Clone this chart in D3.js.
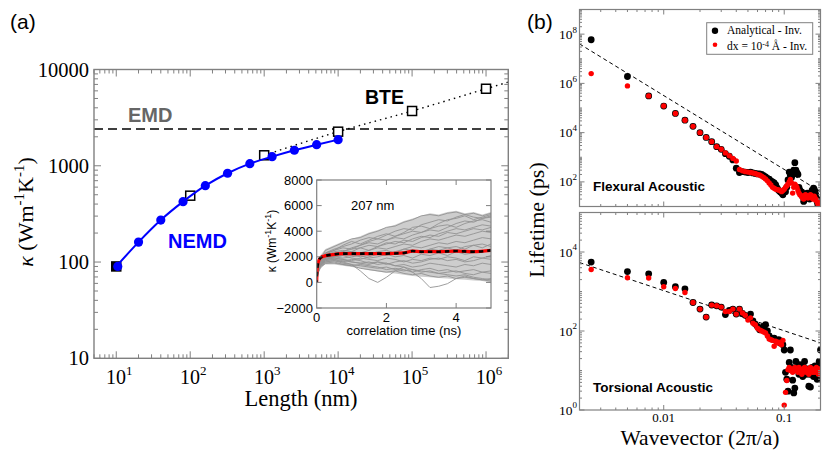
<!DOCTYPE html>
<html><head><meta charset="utf-8">
<script src="https://cdn.jsdelivr.net/npm/d3@7"></script>
<style>body{margin:0;background:#fff}svg{display:block}</style>
</head><body>
<svg id="c" width="823" height="452"></svg>
<script>
// ---------------- Panel (a) data ----------------
const nemdLength = [10,20,40,80,160,320,640,1280,2560,5120,10000];
const nemdKappa  = [90,161,273,424,621,836,1052,1244,1449,1656,1866];
const bteLength  = [10,100,1000,10000,100000,1000000];
const bteKappa   = [90,489,1285,2260,3707,6310];
const bteFitLength = [1000,10000,100000,1000000,2000000];
const bteFitKappa  = [1285,2260,3707,6310,7400];
const emdKappa = 2410;
const aYTickLabels = [10,100,1000,10000];
const aXTickExps = [1,2,3,4,5,6];

// ---------------- Inset data ----------------
const grayTime = [0,0.03,0.1,0.25,0.5,0.75,1,1.25,1.5,1.75,2,2.25,2.5,2.75,3,3.25,3.5,3.75,4,4.25,4.5,4.75,5];
const grayUpper = [0,1200,2100,2600,2900,3200,3400,3600,3900,4100,4300,4500,4800,5000,5200,5400,5300,5500,5600,5400,5500,5300,5500];
const grayLower = [0,700,1200,1400,1400,1300,1200,1100,950,850,750,700,600,500,450,400,350,300,250,200,150,100,0];
const grayCurves = [
 [0,1100,1800,2500,2800,3100,3400,3500,3800,4000,4300,4400,4700,4900,5200,5300,5200,5400,5500,5300,5400,5200,5400],
 [0,1000,1700,2300,2600,2800,3000,3300,3500,3400,3700,4000,4200,4100,4500,4700,4900,4800,5100,5300,5100,5000,5200],
 [0,1000,1600,2200,2500,2700,2600,2900,3200,3400,3300,3600,3800,4000,3900,4200,4400,4500,4300,4600,4800,4900,4700],
 [0,950,1600,2100,2300,2400,2600,2700,2500,2800,3000,3200,3100,3400,3600,3500,3800,4000,4200,4100,4300,4500,4400],
 [0,900,1500,2000,2200,2300,2400,2300,2500,2700,2600,2800,3000,2900,3200,3400,3300,3500,3700,3600,3800,4000,3900],
 [0,900,1500,1900,2100,2200,2100,2300,2200,2400,2500,2300,2600,2800,2700,2900,3100,3000,3200,3100,3300,3500,3400],
 [0,850,1400,1900,2000,2100,2200,2000,2100,2300,2200,2400,2200,2500,2400,2600,2500,2700,2800,2600,2900,3000,2800],
 [0,800,1400,1800,2000,1900,2000,2100,1900,2000,2200,2000,2100,1900,2200,2100,2300,2100,2400,2200,2300,2500,2400],
 [0,800,1300,1800,1900,1800,1700,1900,1800,1700,1900,1800,1600,1800,1700,1900,1800,2000,1900,1700,2000,1900,2100],
 [0,750,1300,1700,1800,1700,1600,1500,1600,1400,1500,1300,1400,1200,1300,1500,1400,1300,1200,1400,1300,1500,1400],
 [0,700,1200,1600,1700,1500,1400,1300,1200,1100,1200,1000,900,1000,800,900,700,800,900,700,600,800,700],
 [0,650,1100,1500,1600,1400,1300,1100,1000,900,800,900,700,600,700,500,400,500,300,400,300,200,300],
 [0,750,1300,1700,1800,1600,1400,900,300,0,400,900,1200,1000,900,800,700,600,500,600,400,300,200],
 [0,800,1400,1800,1900,1800,1600,1500,1400,1600,1500,1300,1200,800,300,-400,-300,-100,300,500,300,200,100],
 [0,900,1500,2000,2200,2400,2700,2900,3100,3000,3300,3500,3400,3700,3900,4100,4000,4300,4600,4800,4700,5000,5100],
 [0,850,1400,1900,2000,2100,1900,1800,2000,2200,2100,2400,2600,2500,2300,2600,2800,2700,2500,2800,2900,2700,3000],
 [0,1050,1700,2300,2500,2900,3200,3000,3300,3600,3800,3600,3900,4300,4400,4200,4600,4900,5000,5200,4900,5100,5300],
 [0,950,1600,2100,2400,2500,2400,2700,2900,2800,3100,3000,3300,3200,3500,3700,3600,3900,3800,4000,4200,4100,4300],
 [0,750,1300,1600,1700,1600,1800,1700,1500,1600,1400,1600,1700,1500,1600,1800,1900,1700,1800,1600,1700,1900,1800],
 [0,700,1200,1500,1500,1400,1300,1400,1300,1200,1000,1100,1000,800,1000,1100,900,1000,800,900,1000,800,900]
];
const meanTime  = [0,0.01,0.03,0.06,0.1,0.2,0.4,0.75,1,1.5,2,2.5,2.75,3,3.5,4,4.5,5];
const meanKappa = [0,900,1400,1700,1900,2050,2150,2250,2250,2250,2250,2300,2450,2400,2400,2450,2400,2500];
const insetYTicks = [-2000,0,2000,4000,6000,8000];
const insetXTicks = [0,2,4];

// ---------------- Panel (b) data ----------------
const wavevector = [
 0.0025,0.005,0.0075,0.01,0.0125,0.015,0.0175,0.02,0.0225,0.025,
 0.0275,0.03,0.0325,0.035,0.0375,0.04,0.0425,0.045,0.0475,0.05,
 0.0525,0.055,0.0575,0.06,0.0625,0.065,0.0675,0.07,0.0725,0.075,
 0.0775,0.08,0.0825,0.085,0.0875,0.09,0.0925,0.095,0.0975,0.1,
 0.1025,0.105,0.1075,0.11,0.1125,0.115,0.1175,0.12,0.1225,0.125,
 0.1275,0.13,0.1325,0.135,0.1375,0.14,0.1425,0.145,0.1475,0.15,
 0.1525,0.155,0.1575,0.16,0.1625,0.165,0.1675,0.17,0.1725,0.175,
 0.1775,0.18,0.1825,0.185,0.1875,0.19,0.1925,0.195,0.1975,0.2];
const flexAnalytical = [
 5.9e7,1.9e6,3.1e5,1.2e5,6.0e4,3.2e4,1.8e4,1.0e4,6400,4300,
 2700,2100,1400,1100,780,360,240,260,250,240,
 250,230,220,210,210,200,180,160,140,130,
 110,100,90,75,55,45,40,35,30,40,
 40,60,120,250,180,150,200,300,600,300,
 230,200,60,45,40,38,25,16,19,22,
 28,35,30,24,20,28,35,45,38,55,
 50,40,30,22,16,12,14,18,12,10];
const flexDx = [
 2.5e6,7.9e5,3.1e5,1.2e5,6.0e4,3.2e4,1.8e4,1.0e4,6400,4300,
 2700,2100,1500,1150,900,700,320,280,260,250,
 240,230,220,200,190,170,150,130,110,90,
 75,60,55,50,48,47,45,40,45,50,
 60,70,80,100,125,90,35,60,80,70,
 60,45,35,30,28,25,22,20,25,30,
 28,25,22,25,25,30,28,24,20,22,
 26,22,18,19,16,13,15,14,12,11];
const torsAnalytical = [
 5550,3200,2800,1690,1320,1170,527,358,225,455,
 435,403,260,330,358,268,358,280,250,230,
 268,180,150,130,107,120,130,145,100,75,
 66,62,66,58,55,60,50,55,45,33,
 9,6,3,16,33,12,5.7,2.7,3.6,17,
 12,10,8,14,11,9,7,12,17,10,
 8,9,11,4,8,3.8,10,12,9,7,
 11,13,10,8,6,9,12,17,10,33];
const torsDx = [
 3600,2220,2190,1320,1190,945,527,358,225,453,
 435,403,312,312,358,268,358,285,250,190,
 215,158,144,118,107,100,95,89,75,63,
 60,58,41,55,50,52,48,45,58,1.33,
 2.8,5.6,10.5,12,10,11,9,10,12,11,
 10,9,12,11,10,8,9,11,12,10,
 9,11,10,8,9,12,11,10,9,10,
 11,9,10,12,10,9,8,10,11,7.8];
const flexFitQ = [0.002,0.2], flexFitL = [4e7,40];
const torsFitQ = [0.002,0.2], torsFitL = [5400,50];
const bXTicks = [0.01,0.1];
const flexYTickExps = [2,4,6,8];
const torsYTickExps = [0,2,4];

// ---------------- helpers ----------------
const svg = d3.select('#c');
const serif = '"Liberation Serif","Times New Roman",Times,serif';
const sans = '"Liberation Sans",Arial,Helvetica,sans-serif';
const axisColor = '#808080';

function logTickList(lo, hi, majorEvery) {
  const out = [];
  const e0 = Math.floor(Math.log10(lo) - 1e-9), e1 = Math.ceil(Math.log10(hi) + 1e-9);
  for (let e = e0; e <= e1; e++) for (let k = 1; k <= 9; k++) {
    const v = k * Math.pow(10, e);
    if (v >= lo * (1 - 1e-9) && v <= hi * (1 + 1e-9))
      out.push({v, major: k === 1 && Math.abs(e % majorEvery) === 0});
  }
  return out;
}
function frame(g, x, y, xt, yt, maj, mn, sw) {
  const [x0, x1] = x.range(), [y0, y1] = y.range();
  const line = (a, b, c, d) => g.append('line').attr('x1', a).attr('y1', b).attr('x2', c).attr('y2', d)
      .attr('stroke', axisColor).attr('stroke-width', 1);
  xt.forEach(t => { const p = x(t.v), L = t.major ? maj : mn; line(p, y0, p, y0 - L); line(p, y1, p, y1 + L); });
  yt.forEach(t => { const p = y(t.v), L = t.major ? maj : mn; line(x0, p, x0 + L, p); line(x1, p, x1 - L, p); });
  g.append('rect').attr('x', x0).attr('y', y1).attr('width', x1 - x0).attr('height', y0 - y1)
    .attr('fill', 'none').attr('stroke', axisColor).attr('stroke-width', sw || 1.3);
}
function powLabel(g, x, y, exp, size, supSize, anchor, fam) {
  const t = g.append('text').attr('x', x).attr('y', y).attr('text-anchor', anchor)
    .attr('font-family', fam).attr('font-size', size).attr('fill', '#000');
  t.append('tspan').text('10');
  t.append('tspan').attr('dy', -size * 0.45).attr('font-size', supSize).text(exp);
  return t;
}

// ================= Panel (a) =================
const xA = d3.scaleLog().domain([5, 2e6]).range([94, 508.3]);
const yA = d3.scaleLog().domain([10, 10000]).range([358.3, 69.5]);
const gA = svg.append('g');

svg.append('text').attr('x', 10).attr('y', 29).attr('font-family', sans).attr('font-size', 21).text('(a)');

gA.append('line').attr('x1', xA.range()[0]).attr('x2', xA.range()[1]).attr('y1', yA(emdKappa)).attr('y2', yA(emdKappa))
  .attr('stroke', '#000').attr('stroke-width', 1.3).attr('stroke-dasharray', '9,5');
gA.append('path').datum(bteFitLength.map((d, i) => [d, bteFitKappa[i]]))
  .attr('d', d3.line().x(d => xA(d[0])).y(d => yA(d[1])).curve(d3.curveMonotoneX))
  .attr('fill', 'none').attr('stroke', '#000').attr('stroke-width', 1.4).attr('stroke-dasharray', '1.5,4');
gA.selectAll('rect.bte').data(bteLength.map((d, i) => [d, bteKappa[i]])).enter().append('rect')
  .attr('x', d => xA(d[0]) - 4.5).attr('y', d => yA(d[1]) - 4.5).attr('width', 9).attr('height', 9)
  .attr('fill', d => d[0] === 10 ? '#000' : '#fff').attr('stroke', '#000').attr('stroke-width', 1.5);
const nemd = nemdLength.map((d, i) => [d, nemdKappa[i]]);
gA.append('path').datum(nemd).attr('d', d3.line().x(d => xA(d[0])).y(d => yA(d[1])).curve(d3.curveMonotoneX))
  .attr('fill', 'none').attr('stroke', '#0000ff').attr('stroke-width', 2);
gA.selectAll('circle.nemd').data(nemd).enter().append('circle')
  .attr('cx', d => xA(d[0]) + (d[0] === 10 ? 1.5 : 0)).attr('cy', d => yA(d[1])).attr('r', 4.6).attr('fill', '#0000ff');

frame(gA, xA, yA, logTickList(5, 2e6, 1), logTickList(10, 10000, 1), 7, 4, 1.4);

aYTickLabels.forEach(v => gA.append('text').attr('x', 89).attr('y', yA(v) + 7).attr('text-anchor', 'end')
  .attr('font-family', serif).attr('font-size', 20.5).text(v));
aXTickExps.forEach(e => powLabel(gA, xA(Math.pow(10, e)) + 3, 384, e, 20, 13, 'middle', serif));

gA.append('text').attr('x', 301).attr('y', 406).attr('text-anchor', 'middle').attr('font-family', serif)
  .attr('font-size', 22.5).text('Length (nm)');
{
  const t = gA.append('text').attr('transform', 'translate(33,212) rotate(-90)').attr('text-anchor', 'middle')
    .attr('font-family', serif).attr('font-size', 22);
  t.append('tspan').attr('font-style', 'italic').text('κ');
  t.append('tspan').text(' (Wm');
  t.append('tspan').attr('dy', -9).attr('font-size', 15).text('-1');
  t.append('tspan').attr('dy', 9).text('K');
  t.append('tspan').attr('dy', -9).attr('font-size', 15).text('-1');
  t.append('tspan').attr('dy', 9).text(')');
}
gA.append('text').attr('x', 128).attr('y', 122).attr('font-family', sans).attr('font-weight', 'bold')
  .attr('font-size', 20).attr('fill', '#666').text('EMD');
gA.append('text').attr('x', 365).attr('y', 104).attr('font-family', sans).attr('font-weight', 'bold')
  .attr('font-size', 19.5).attr('fill', '#000').text('BTE');
gA.append('text').attr('x', 168).attr('y', 248).attr('font-family', sans).attr('font-weight', 'bold')
  .attr('font-size', 20).attr('fill', '#0000ff').text('NEMD');

// ================= Inset =================
const xI = d3.scaleLinear().domain([0, 5]).range([316.7, 491]);
const yI = d3.scaleLinear().domain([-2000, 8000]).range([308, 180]);
const gI = svg.append('g');
gI.append('rect').attr('x', 316.7).attr('y', 180).attr('width', 491 - 316.7).attr('height', 128).attr('fill', '#fff');
svg.append('clipPath').attr('id', 'clipI').append('rect').attr('x', 316.7).attr('y', 180).attr('width', 491 - 316.7).attr('height', 128);
const gIc = gI.append('g').attr('clip-path', 'url(#clipI)');
gIc.append('path').datum(grayTime.map((t, i) => [t, grayUpper[i], grayLower[i]]))
  .attr('d', d3.area().x(d => xI(d[0])).y0(d => yI(d[2])).y1(d => yI(d[1])))
  .attr('fill', '#cdcdcd');
grayCurves.forEach(c => gIc.append('path').datum(grayTime.map((t, i) => [t, c[i]]))
  .attr('d', d3.line().x(d => xI(d[0])).y(d => yI(d[1])))
  .attr('fill', 'none').attr('stroke', '#939393').attr('stroke-width', 0.9));
const meanLine = d3.line().x(d => xI(d[0])).y(d => yI(d[1])).curve(d3.curveMonotoneX);
const meanData = meanTime.map((t, i) => [t, meanKappa[i]]);
gIc.append('path').datum(meanData).attr('d', meanLine).attr('fill', 'none').attr('stroke', '#ff0000').attr('stroke-width', 3.2);
gIc.append('path').datum(meanData).attr('d', meanLine).attr('fill', 'none').attr('stroke', '#000')
  .attr('stroke-width', 2.6).attr('stroke-dasharray', '4.5,4').attr('stroke-dashoffset', -6);
frame(gI, xI, yI, insetXTicks.slice(1).map(v => ({v, major: true})), insetYTicks.map(v => ({v, major: true})), 5, 3, 1.2);
insetYTicks.forEach(v => gI.append('text').attr('x', 313).attr('y', yI(v) + 4.6).attr('text-anchor', 'end')
  .attr('font-family', sans).attr('font-size', 13).text(v < 0 ? '−' + Math.abs(v) : v));
insetXTicks.forEach(v => gI.append('text').attr('x', xI(v)).attr('y', 321.5).attr('text-anchor', 'middle')
  .attr('font-family', sans).attr('font-size', 13).text(v));
gI.append('text').attr('x', 404).attr('y', 335).attr('text-anchor', 'middle').attr('font-family', sans)
  .attr('font-size', 13).text('correlation time (ns)');
gI.append('text').attr('x', 351).attr('y', 210).attr('font-family', sans).attr('font-size', 13).text('207 nm');
{
  const t = gI.append('text').attr('transform', 'translate(275.5,241) rotate(-90)').attr('text-anchor', 'middle')
    .attr('font-family', sans).attr('font-size', 12);
  t.append('tspan').text('κ (Wm');
  t.append('tspan').attr('dy', -5).attr('font-size', 9).text('-1');
  t.append('tspan').attr('dy', 5).text('K');
  t.append('tspan').attr('dy', -5).attr('font-size', 9).text('-1');
  t.append('tspan').attr('dy', 5).text(')');
}

// ================= Panel (b) =================
svg.append('text').attr('x', 527).attr('y', 29).attr('font-family', sans).attr('font-size', 21).text('(b)');
const xB = d3.scaleLog().domain([0.002, 0.2]).range([579.5, 820.5]);
const yTop = d3.scaleLog().domain([10, 1e9]).range([206.5, 9.5]);
const yBot = d3.scaleLog().domain([1, 1e5]).range([410, 212.5]);

function subplot(id, y, fitQ, fitL, blackVals, redVals, expLabels, title, titleY) {
  const g = svg.append('g');
  const [x0, x1] = xB.range(), [y0, y1] = y.range();
  svg.append('clipPath').attr('id', id).append('rect').attr('x', x0).attr('y', y1).attr('width', x1 - x0).attr('height', y0 - y1);
  const gc = g.append('g').attr('clip-path', 'url(#' + id + ')');
  gc.append('path').datum(fitQ.map((q, i) => [q, fitL[i]]))
    .attr('d', d3.line().x(d => xB(d[0])).y(d => y(d[1])))
    .attr('stroke', '#000').attr('stroke-width', 1).attr('stroke-dasharray', '4,3').attr('fill', 'none');
  gc.selectAll('circle.bk').data(wavevector.map((q, i) => [q, blackVals[i]])).enter().append('circle')
    .attr('cx', d => xB(d[0])).attr('cy', d => y(d[1])).attr('r', 3.4).attr('fill', '#000');
  gc.selectAll('circle.rd').data(wavevector.map((q, i) => [q, redVals[i]])).enter().append('circle')
    .attr('cx', d => xB(d[0])).attr('cy', d => y(d[1])).attr('r', 2.7).attr('fill', '#ff0000');
  const [lo, hi] = y.domain();
  frame(g, xB, y, logTickList(0.002, 0.2, 1), logTickList(lo, hi, 2), 5, 2.5, 1.2);
  expLabels.forEach(e => powLabel(g, 577, y(Math.pow(10, e)) + 4.5, e, 13.5, 9, 'end', serif));
  g.append('text').attr('x', 593).attr('y', titleY).attr('font-family', sans).attr('font-weight', 'bold')
    .attr('font-size', 13.5).text(title);
  return g;
}
subplot('clipT', yTop, flexFitQ, flexFitL, flexAnalytical, flexDx, flexYTickExps, 'Flexural Acoustic', 190.5);
subplot('clipB', yBot, torsFitQ, torsFitL, torsAnalytical, torsDx, torsYTickExps, 'Torsional Acoustic', 391.5);

bXTicks.forEach(v => svg.append('text').attr('x', xB(v)).attr('y', 421.5).attr('text-anchor', 'middle')
  .attr('font-family', serif).attr('font-size', 13).text(v));
svg.append('text').attr('x', 700).attr('y', 445).attr('text-anchor', 'middle').attr('font-family', serif)
  .attr('font-size', 21.5).text('Wavevector (2π/a)');
svg.append('text').attr('transform', 'translate(544,220) rotate(-90)').attr('text-anchor', 'middle')
  .attr('font-family', serif).attr('font-size', 22).text('Lifetime (ps)');

// legend
const gL = svg.append('g');
gL.append('rect').attr('x', 706.7).attr('y', 22.7).attr('width', 106).attr('height', 31.6)
  .attr('fill', '#fff').attr('stroke', axisColor).attr('stroke-width', 1);
gL.append('circle').attr('cx', 715).attr('cy', 30.7).attr('r', 3.2).attr('fill', '#000');
gL.append('circle').attr('cx', 715).attr('cy', 44.8).attr('r', 2.3).attr('fill', '#ff0000');
gL.append('text').attr('x', 727).attr('y', 34).attr('font-family', serif).attr('font-size', 11.5).text('Analytical - Inv.');
{
  const t = gL.append('text').attr('x', 727).attr('y', 50).attr('font-family', serif).attr('font-size', 11.5);
  t.append('tspan').text('dx = 10');
  t.append('tspan').attr('dy', -3.5).attr('font-size', 8).text('-4');
  t.append('tspan').attr('dy', 3.5).text(' Å - Inv.');
}
</script>
</body></html>
